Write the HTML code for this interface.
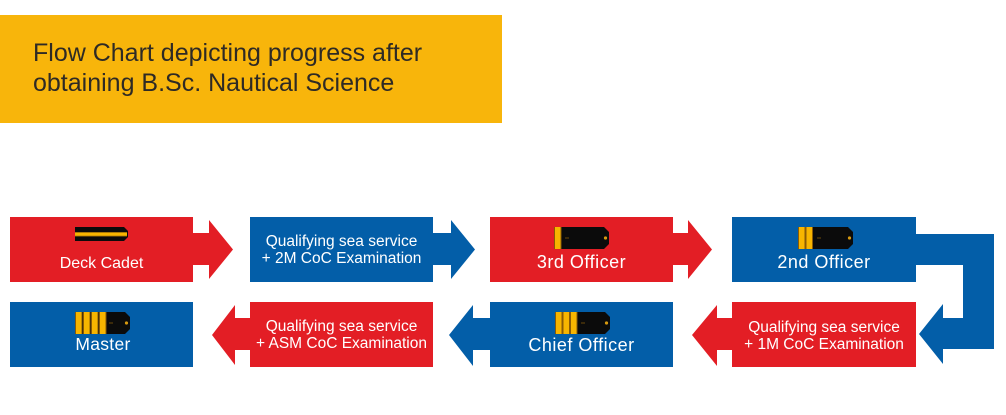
<!DOCTYPE html>
<html>
<head>
<meta charset="utf-8">
<style>
  html, body { margin:0; padding:0; background:#ffffff; }
  body { width:1006px; height:415px; overflow:hidden; }
  svg { display:block; }
  .t { font-family:"Liberation Sans", Arial, sans-serif; fill:#ffffff; }
</style>
</head>
<body>
<svg width="1006" height="415" viewBox="0 0 1006 415" xmlns="http://www.w3.org/2000/svg">
  <defs>
    <g id="ep-black">
      <path d="M0 0 H50 L55 5 V17 L50 22 H0 Z" fill="#0b0b0b"/>
      <circle cx="51.5" cy="11" r="1.6" fill="#d79a10"/>
    </g>
    <g id="stripe">
      <rect x="0" y="0" width="7.5" height="22" fill="#f7b500"/>
      <rect x="0" y="0" width="1" height="22" fill="#8a5a05"/>
      <rect x="6.5" y="0" width="1" height="22" fill="#8a5a05"/>
    </g>
  </defs>

  <!-- Title box -->
  <rect x="0" y="15" width="502" height="108" fill="#f8b50b"/>
  <text x="33" y="61" font-family="Liberation Sans, Arial, sans-serif" font-size="25" fill="#2e2a25">Flow Chart depicting progress after</text>
  <text x="33" y="91" font-family="Liberation Sans, Arial, sans-serif" font-size="25" fill="#2e2a25">obtaining B.Sc. Nautical Science</text>

  <!-- Row 1 -->
  <!-- Deck Cadet (red) with right arrow -->
  <path d="M10 217 H193 V233 H209 V220 L233 249.5 L209 279 V265 H193 V282 H10 Z" fill="#e31e25"/>
  <!-- 2M (blue) with right arrow -->
  <path d="M250 217 H433 V233 H451 V220 L475 249.5 L451 279 V265 H433 V282 H250 Z" fill="#035ea8"/>
  <!-- 3rd Officer (red) with right arrow -->
  <path d="M490 217 H673 V233 H688 V220 L712 249.5 L688 279 V265 H673 V282 H490 Z" fill="#e31e25"/>
  <!-- 2nd Officer (blue) with connector -->
  <path d="M732 217 H916 V234 H994 V349 H943 V364 L919 334 L943 304 V318 H963 V265 H916 V282 H732 Z" fill="#035ea8"/>

  <!-- Row 2 -->
  <!-- Master (blue) -->
  <rect x="10" y="302" width="183" height="65" fill="#035ea8"/>
  <!-- ASM (red) with left arrow -->
  <path d="M433 302 V367 H250 V350 H235 V365 L212 335 L235 305 V318 H250 V302 Z" fill="#e31e25"/>
  <!-- Chief Officer (blue) with left arrow -->
  <path d="M673 302 V367 H490 V350 H473 V366 L449 335 L473 305 V318 H490 V302 Z" fill="#035ea8"/>
  <!-- 1M (red) with left arrow -->
  <path d="M916 302 V367 H732 V350 H717 V366 L692 335 L717 305 V318 H732 V302 Z" fill="#e31e25"/>

  <!-- Epaulettes -->
  <!-- Deck Cadet -->
  <g transform="translate(75,227)">
    <path d="M0 0 H49 L53 4 V10 L49 14 H0 Z" fill="#0b0b0b"/>
    <rect x="0" y="5.5" width="52" height="3.5" fill="#f7b500"/>
    <rect x="0" y="5" width="52" height="0.8" fill="#9a6a08"/>
    <rect x="0" y="8.7" width="52" height="0.8" fill="#9a6a08"/>
  </g>
  <!-- 3rd Officer: 1 stripe -->
  <g transform="translate(554,227)">
    <use href="#ep-black"/>
    <use href="#stripe"/>
    <rect x="11" y="10.5" width="4" height="1" fill="#6b4a08"/>
  </g>
  <!-- 2nd Officer: 2 stripes -->
  <g transform="translate(798,227)">
    <use href="#ep-black"/>
    <use href="#stripe"/>
    <use href="#stripe" x="7.5"/>
    <rect x="19" y="10.5" width="4" height="1" fill="#6b4a08"/>
  </g>
  <!-- Chief Officer: 3 stripes -->
  <g transform="translate(555,312)">
    <use href="#ep-black"/>
    <use href="#stripe"/>
    <use href="#stripe" x="7.5"/>
    <use href="#stripe" x="15"/>
    <rect x="26" y="10.5" width="4" height="1" fill="#6b4a08"/>
  </g>
  <!-- Master: 4 stripes -->
  <g transform="translate(75,312)">
    <use href="#ep-black"/>
    <use href="#stripe"/>
    <use href="#stripe" x="8"/>
    <use href="#stripe" x="16"/>
    <use href="#stripe" x="24"/>
    <rect x="34" y="10.5" width="4" height="1" fill="#6b4a08"/>
  </g>

  <!-- Labels -->
  <text class="t" x="101.5" y="268" font-size="16" text-anchor="middle">Deck Cadet</text>
  <text class="t" x="341.5" y="246" font-size="15.5" text-anchor="middle">Qualifying sea service</text>
  <text class="t" x="341.5" y="263" font-size="15.5" text-anchor="middle">+ 2M CoC Examination</text>
  <text class="t" x="581.5" y="268" font-size="18" letter-spacing="0.5" text-anchor="middle">3rd Officer</text>
  <text class="t" x="824" y="268" font-size="18" letter-spacing="0.5" text-anchor="middle">2nd Officer</text>

  <text class="t" x="103" y="350" font-size="17.5" letter-spacing="0.3" text-anchor="middle">Master</text>
  <text class="t" x="341.5" y="331" font-size="15.5" text-anchor="middle">Qualifying sea service</text>
  <text class="t" x="341.5" y="348" font-size="15.5" text-anchor="middle">+ ASM CoC Examination</text>
  <text class="t" x="581.5" y="351" font-size="18" letter-spacing="0.5" text-anchor="middle">Chief Officer</text>
  <text class="t" x="824" y="332" font-size="15.5" text-anchor="middle">Qualifying sea service</text>
  <text class="t" x="824" y="349" font-size="15.5" text-anchor="middle">+ 1M CoC Examination</text>
</svg>
</body>
</html>
